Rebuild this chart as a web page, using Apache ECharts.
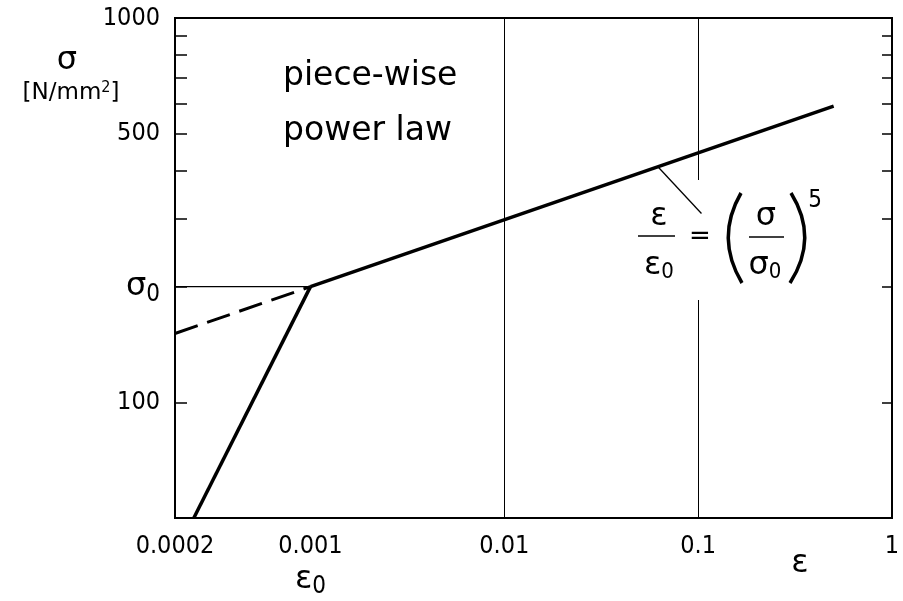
<!DOCTYPE html>
<html>
<head>
<meta charset="utf-8">
<script src="https://cdn.jsdelivr.net/npm/echarts@6/dist/echarts.min.js"></script>
<style>
  html, body { margin: 0; padding: 0; background: #fff; }
  #chart { width: 903px; height: 601px; }
</style>
</head>
<body>
<div id="chart"></div>
<script>
// ---- axes ----
const strainRange = [0.0002, 1];
const strainLabels = [0.0002, 0.001, 0.01, 0.1, 1];
const strainGrid = [0.001, 0.01, 0.1];
const stressRange = [50, 1000];
const stressLabels = [100, 200, 500, 1000];
const stressTicks = [100, 200, 300, 400, 500, 600, 700, 800, 900, 1000];
const eps0 = 0.001;
const sigma0 = 200;

// ---- curves ----
// linear-elastic branch
const elasticStrain = [0.00025, 0.001];
const elasticStress = [50, 200];
// power-law branch above eps0
const powerStrain = [0.001, 0.5];
const powerStress = [200, 590];
// power law continued below eps0 (dashed)
const extrapStrain = [0.0002, 0.001];
const extrapStress = [151, 200];
// sigma0 reference level
const refStrain = [0.0002, 0.001];
const refStress = [200, 200];
// pointer from the curve to the formula
const leaderStrain = [0.062, 0.104];
const leaderStress = [410, 310];

const NUM_FONT = '"DejaVu Sans Condensed", "DejaVu Sans", sans-serif';
const TXT_FONT = '"DejaVu Sans", sans-serif';

function pairs(xs, ys) { return xs.map((x, i) => [x, ys[i]]); }

const chart = echarts.init(document.getElementById('chart'), null, { renderer: 'canvas' });

function lineSeries(xs, ys, style) {
  return {
    type: 'line',
    data: pairs(xs, ys),
    symbol: 'none',
    silent: true,
    animation: false,
    z: 10,
    lineStyle: Object.assign({ color: '#000' }, style)
  };
}

const option = {
  animation: false,
  backgroundColor: '#fff',
  grid: {
    left: 175, top: 18, right: 11, bottom: 83,
    show: true, borderColor: '#000', borderWidth: 2, backgroundColor: 'transparent'
  },
  xAxis: {
    type: 'log',
    logBase: 10,
    min: strainRange[0],
    max: strainRange[1],
    axisLine: { show: true, lineStyle: { color: '#000', width: 2 } },
    axisTick: { show: false },
    splitLine: { show: false },
    axisLabel: {
      customValues: strainLabels,
      showMinLabel: true,
      showMaxLabel: true,
      hideOverlap: false,
      margin: 13,
      color: '#000',
      fontFamily: NUM_FONT,
      fontSize: 25,
      formatter: function (v) {
        const s = String(+(+v).toPrecision(6));
        if (Math.abs(v - eps0) < 1e-9) return '{n|' + s + '}\n{g|ε}{s|0}';
        return '{n|' + s + '}';
      },
      rich: {
        n: { fontFamily: NUM_FONT, fontSize: 25, color: '#000', lineHeight: 30 },
        g: { fontFamily: TXT_FONT, fontSize: 32, color: '#000', lineHeight: 38 },
        s: { fontFamily: NUM_FONT, fontSize: 24, color: '#000', lineHeight: 38, padding: [14, 0, 0, 0] }
      }
    }
  },
  yAxis: [{
    type: 'log',
    logBase: 10,
    min: stressRange[0],
    max: stressRange[1],
    position: 'left',
    axisLine: { show: true, lineStyle: { color: '#000', width: 2 } },
    axisTick: { show: true, inside: true, length: 12, customValues: stressTicks, lineStyle: { color: '#000', width: 1.5 } },
    splitLine: { show: false },
    axisLabel: {
      customValues: stressLabels,
      showMinLabel: true,
      showMaxLabel: true,
      hideOverlap: false,
      margin: 15,
      color: '#000',
      fontFamily: NUM_FONT,
      fontSize: 25,
      formatter: function (v) {
        if (Math.abs(v - sigma0) < 1e-6) return '{g|σ}{s|0}';
        return '{n|' + Math.round(v) + '}';
      },
      rich: {
        n: { fontFamily: NUM_FONT, fontSize: 25, color: '#000' },
        g: { fontFamily: TXT_FONT, fontSize: 32, color: '#000' },
        s: { fontFamily: NUM_FONT, fontSize: 24, color: '#000', padding: [16, 0, 0, 0] }
      }
    }
  }, {
    type: 'log',
    logBase: 10,
    min: stressRange[0],
    max: stressRange[1],
    position: 'right',
    axisLine: { show: true, lineStyle: { color: '#000', width: 2 } },
    axisTick: { show: true, inside: true, length: 10, customValues: stressTicks, lineStyle: { color: '#000', width: 1.5 } },
    splitLine: { show: false },
    axisLabel: { show: false }
  }],
  series: [
    // grid lines at the strain decades
    {
      type: 'line',
      data: [],
      silent: true,
      markLine: {
        silent: true,
        symbol: 'none',
        animation: false,
        z: 5,
        label: { show: false },
        lineStyle: { color: '#000', width: 1, type: 'solid' },
        data: strainGrid.map(v => ({ xAxis: v }))
      }
    },
    lineSeries(refStrain, refStress, { width: 1.2 }),
    lineSeries(extrapStrain, extrapStress, { width: 3, type: [24, 10] }),
    lineSeries(elasticStrain, elasticStress, { width: 3.5 }),
    lineSeries(powerStrain, powerStress, { width: 3.5 }),
    lineSeries(leaderStrain, leaderStress, { width: 1.3 })
  ],
  graphic: {
    elements: [
      // clear boxes behind the annotations
      { type: 'rect', z: 6, shape: { x: 275, y: 57, width: 195, height: 103 }, style: { fill: '#fff' } },
      { type: 'rect', z: 6, shape: { x: 630, y: 180, width: 195, height: 120 }, style: { fill: '#fff' } },
      {
        type: 'text', z: 12, left: 283, top: 49,
        style: { text: 'piece-wise\npower law', fill: '#000', font: '33px ' + TXT_FONT, lineHeight: 55 }
      },
      // y axis title
      {
        type: 'text', z: 12,
        style: { x: 67, y: 61, align: 'center', verticalAlign: 'middle', text: 'σ', fill: '#000', font: '32px ' + TXT_FONT }
      },
      {
        type: 'text', z: 12,
        style: {
          x: 71, y: 93, align: 'center', verticalAlign: 'middle',
          text: '{u|[N/mm}{p|2}{u|]}',
          rich: {
            u: { fontFamily: TXT_FONT, fontSize: 23, color: '#000', lineHeight: 26 },
            p: { fontFamily: NUM_FONT, fontSize: 16, color: '#000', lineHeight: 26, verticalAlign: 'top' }
          }
        }
      },
      // x axis title
      {
        type: 'text', z: 12,
        style: { x: 800, y: 564, align: 'center', verticalAlign: 'middle', text: 'ε', fill: '#000', font: '32px ' + TXT_FONT }
      },
      // formula  eps/eps0 = (sigma/sigma0)^5
      { type: 'text', z: 12, style: { x: 659, y: 217, align: 'center', verticalAlign: 'middle', text: 'ε', fill: '#000', font: '32px ' + TXT_FONT } },
      { type: 'line', z: 12, shape: { x1: 638, y1: 236, x2: 675, y2: 236 }, style: { stroke: '#000', lineWidth: 1.5 } },
      {
        type: 'text', z: 12,
        style: {
          x: 659, y: 266, align: 'center', verticalAlign: 'middle',
          text: '{g|ε}{s|0}',
          rich: {
            g: { fontFamily: TXT_FONT, fontSize: 32, color: '#000' },
            s: { fontFamily: NUM_FONT, fontSize: 22, color: '#000', padding: [13, 0, 0, 0] }
          }
        }
      },
      { type: 'text', z: 12, style: { x: 700, y: 237, align: 'center', verticalAlign: 'middle', text: '=', fill: '#000', font: '26px ' + TXT_FONT } },
      { type: 'bezierCurve', z: 12, shape: { x1: 741, y1: 193, cpx1: 715, cpy1: 238, x2: 742, y2: 283 }, style: { stroke: '#000', lineWidth: 3.5, fill: null } },
      { type: 'bezierCurve', z: 12, shape: { x1: 791, y1: 193, cpx1: 819, cpy1: 238, x2: 790, y2: 283 }, style: { stroke: '#000', lineWidth: 3.5, fill: null } },
      { type: 'text', z: 12, style: { x: 766, y: 217, align: 'center', verticalAlign: 'middle', text: 'σ', fill: '#000', font: '32px ' + TXT_FONT } },
      { type: 'line', z: 12, shape: { x1: 749, y1: 237, x2: 784, y2: 237 }, style: { stroke: '#000', lineWidth: 1.5 } },
      {
        type: 'text', z: 12,
        style: {
          x: 765, y: 266, align: 'center', verticalAlign: 'middle',
          text: '{g|σ}{s|0}',
          rich: {
            g: { fontFamily: TXT_FONT, fontSize: 32, color: '#000' },
            s: { fontFamily: NUM_FONT, fontSize: 22, color: '#000', padding: [13, 0, 0, 0] }
          }
        }
      },
      { type: 'text', z: 12, style: { x: 815, y: 201, align: 'center', verticalAlign: 'middle', text: '5', fill: '#000', font: '24px ' + NUM_FONT } }
    ]
  }
};

chart.setOption(option);
</script>
</body>
</html>
